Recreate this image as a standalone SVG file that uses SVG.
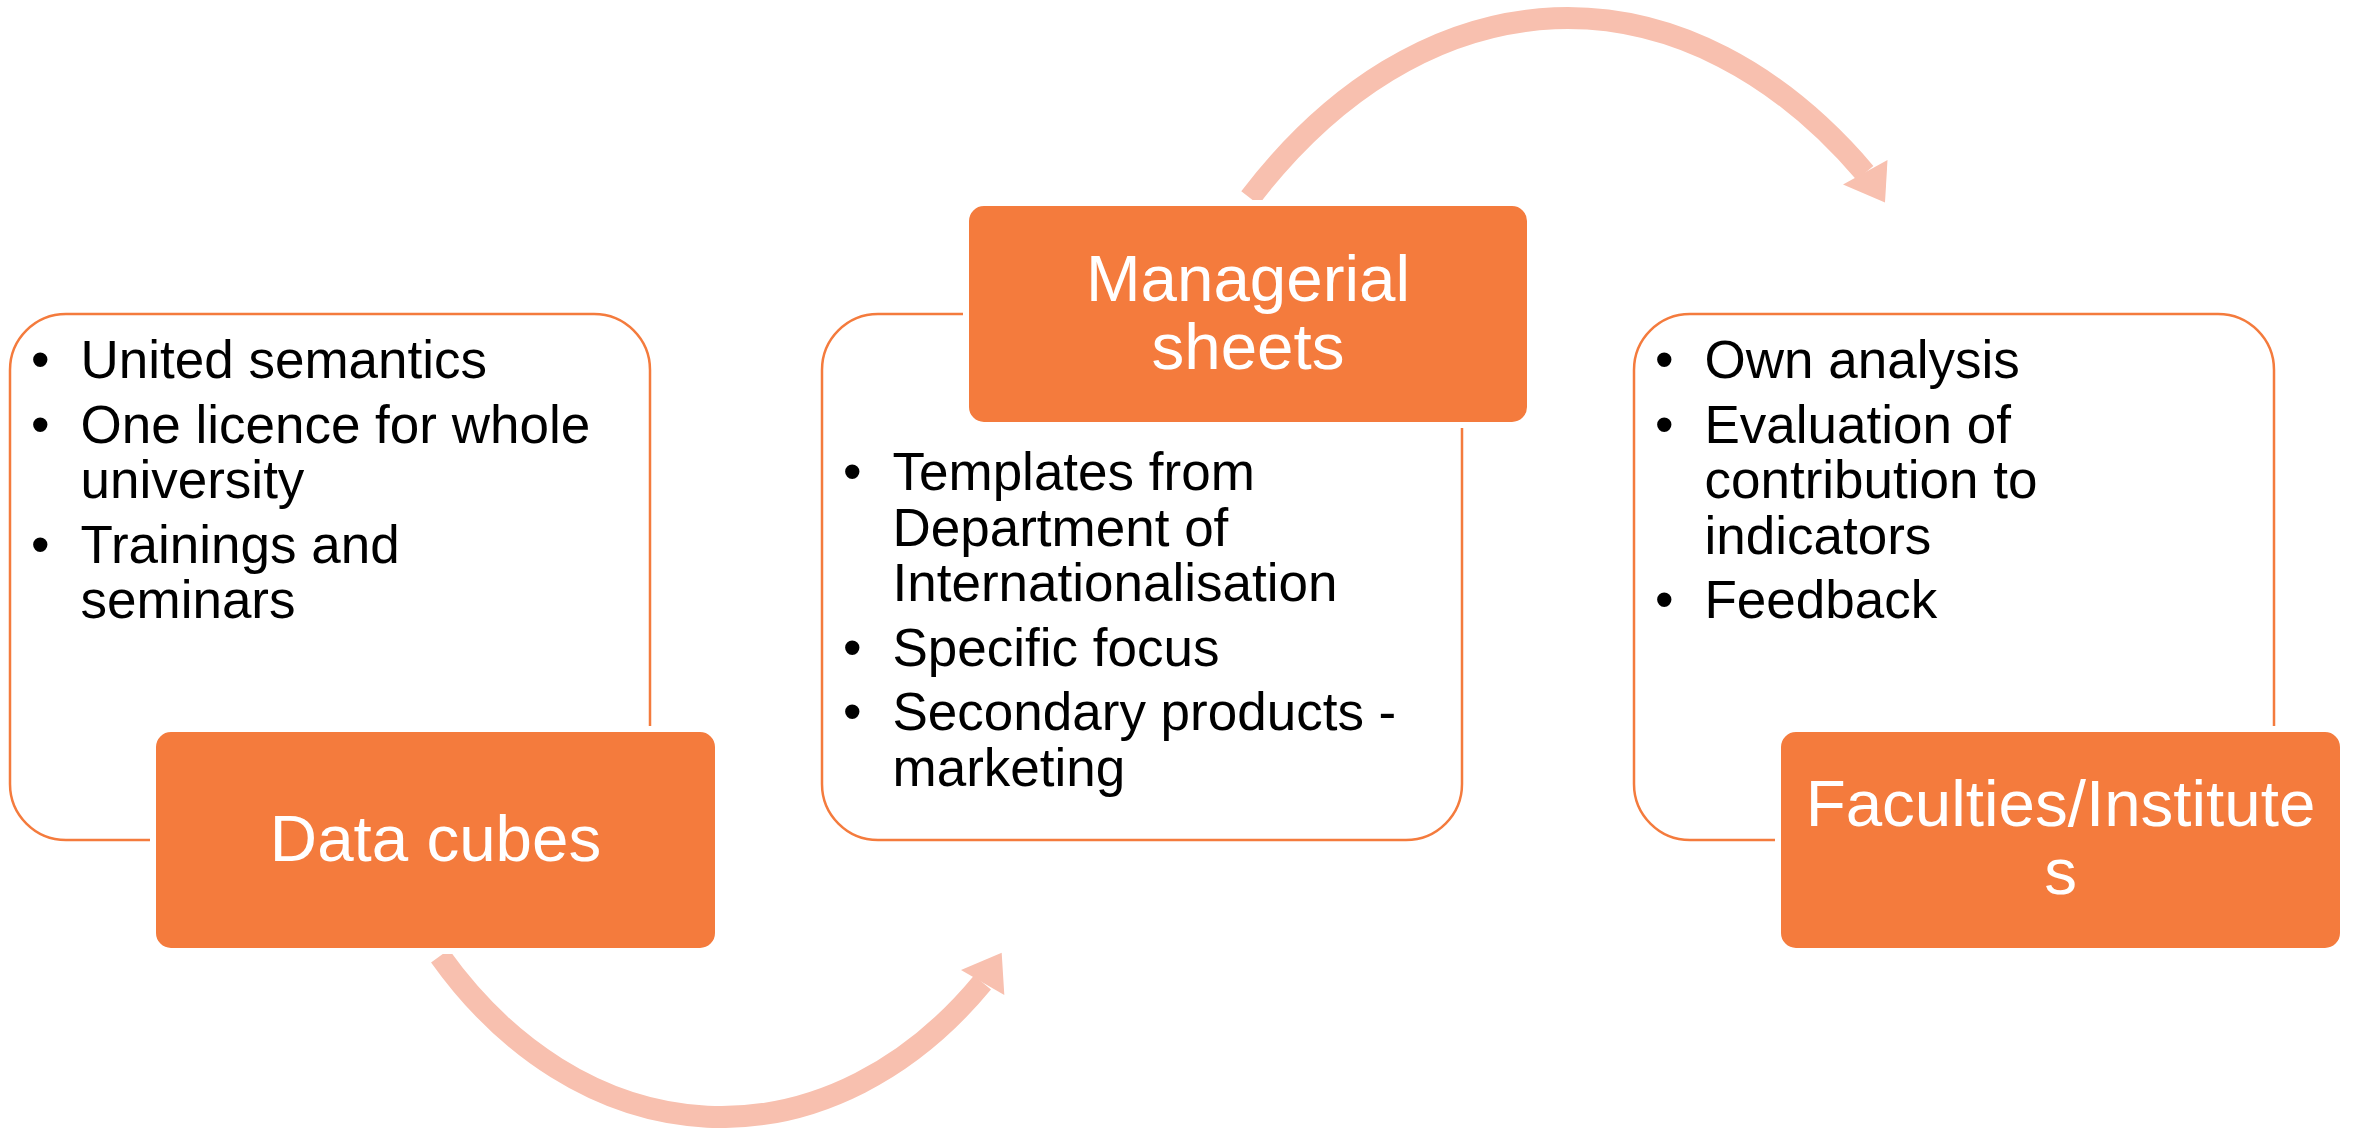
<svg xmlns="http://www.w3.org/2000/svg" width="2357" height="1128" viewBox="0 0 2357 1128">
<style>
.panel{fill:#FFFFFF;stroke:#F47B3D;stroke-width:2.5}
.head{fill:#F47B3D;stroke:#FFFFFF;stroke-width:6}
.htxt{font-family:"Liberation Sans",Arial,sans-serif;font-size:65.5px;fill:#FFFFFF;text-anchor:middle}
.btxt{font-family:"Liberation Sans",Arial,sans-serif;font-size:53px;fill:#000000}
.arc{fill:none;stroke:#F8C0AF;stroke-width:22}
.arh{fill:#F8C0AF}
</style>
<rect width="2357" height="1128" fill="#FFFFFF"/>
<g id="connectors">
  <path class="arc" d="M 1250 198 A 489 751 0 0 1 1865 173"/>
  <polygon class="arh" points="1843,184.5 1887.5,160 1885,202.5"/>
  <path class="arc" d="M 440 956 A 389 520 0 0 0 982.5 982.5"/>
  <polygon class="arh" points="961,970 1001.7,952.7 1004.3,995"/>
</g>
<g id="node-data-cubes">
  <rect class="panel" x="10" y="314" width="640" height="526" rx="56" ry="56"/>
  <text class="btxt" x="31" y="378">•</text>
  <text class="btxt" x="80.5" y="378">United semantics</text>
  <text class="btxt" x="31" y="442.5">•</text>
  <text class="btxt" x="80.5" y="442.5">One licence for whole</text>
  <text class="btxt" x="80.5" y="498">university</text>
  <text class="btxt" x="31" y="562.5">•</text>
  <text class="btxt" x="80.5" y="562.5">Trainings and</text>
  <text class="btxt" x="80.5" y="618">seminars</text>
  <rect class="head" x="153" y="729" width="565" height="222" rx="18" ry="18"/>
  <text class="htxt" x="435.5" y="861">Data cubes</text>
</g>
<g id="node-managerial-sheets">
  <rect class="panel" x="822" y="314" width="640" height="526" rx="56" ry="56"/>
  <text class="btxt" x="843" y="490">•</text>
  <text class="btxt" x="892.5" y="490">Templates from</text>
  <text class="btxt" x="892.5" y="545.5">Department of</text>
  <text class="btxt" x="892.5" y="601">Internationalisation</text>
  <text class="btxt" x="843" y="665.5">•</text>
  <text class="btxt" x="892.5" y="665.5">Specific focus</text>
  <text class="btxt" x="843" y="730">•</text>
  <text class="btxt" x="892.5" y="730">Secondary products -</text>
  <text class="btxt" x="892.5" y="785.5">marketing</text>
  <rect class="head" x="966" y="203" width="564" height="222" rx="18" ry="18"/>
  <text class="htxt" x="1248" y="300.5">Managerial</text>
  <text class="htxt" x="1248" y="368.5">sheets</text>
</g>
<g id="node-faculties">
  <rect class="panel" x="1634" y="314" width="640" height="526" rx="56" ry="56"/>
  <text class="btxt" x="1655" y="378">•</text>
  <text class="btxt" x="1704.5" y="378">Own analysis</text>
  <text class="btxt" x="1655" y="442.5">•</text>
  <text class="btxt" x="1704.5" y="442.5">Evaluation of</text>
  <text class="btxt" x="1704.5" y="498">contribution to</text>
  <text class="btxt" x="1704.5" y="553.5">indicators</text>
  <text class="btxt" x="1655" y="618">•</text>
  <text class="btxt" x="1704.5" y="618">Feedback</text>
  <rect class="head" x="1778" y="729" width="565" height="222" rx="18" ry="18"/>
  <text class="htxt" x="2060.5" y="826">Faculties/Institute</text>
  <text class="htxt" x="2060.5" y="893.5">s</text>
</g>
</svg>
